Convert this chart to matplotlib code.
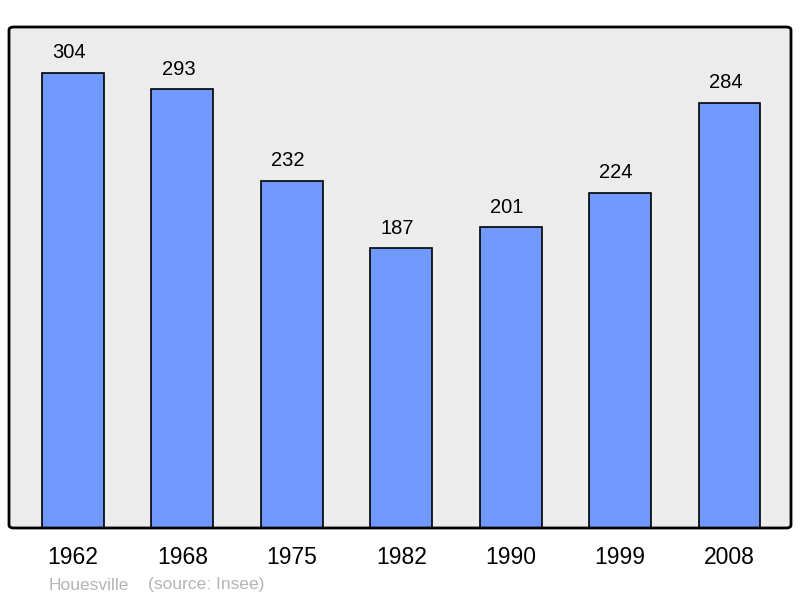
import matplotlib
matplotlib.use("Agg")
import matplotlib.pyplot as plt
from matplotlib.patches import FancyBboxPatch

years = ["1962", "1968", "1975", "1982", "1990", "1999", "2008"]
population = [304, 293, 232, 187, 201, 224, 284]
commune = "Houesville"
source = "(source: Insee)"

plt.rcParams['font.family'] = ['Liberation Sans', 'DejaVu Sans']

fig = plt.figure(figsize=(8, 5.98), dpi=100)
ax = fig.add_axes([9/800, 70/598, 782/800, 501/598])
ax.set_xlim(-0.584, 6.562)
ax.set_ylim(0, 334.7)
ax.axis('off')

bg = FancyBboxPatch((0, 0), 1, 1, boxstyle="round,pad=0,rounding_size=0.006",
                    transform=ax.transAxes, facecolor="#ececec", edgecolor="none",
                    zorder=0, clip_on=False)
ax.add_patch(bg)
frame = FancyBboxPatch((0, 0), 1, 1, boxstyle="round,pad=0,rounding_size=0.006",
                       transform=ax.transAxes, facecolor="none", edgecolor="black",
                       linewidth=2, zorder=5, clip_on=False)
ax.add_patch(frame)

x = list(range(len(years)))
ax.bar(x, population, width=0.566, color="#7099ff", edgecolor="black",
       linewidth=1.2, zorder=2)

for xi, v in zip(x, population):
    ax.annotate(str(v), (xi, v), xytext=(-4, 20), textcoords="offset pixels",
                ha="center", va="center", fontsize=14.5, color="black")

for xi, y in zip(x, years):
    ax.annotate(y, (xi, 0), xytext=(0, -30), textcoords="offset pixels",
                ha="center", va="center", fontsize=16.5, color="black",
                annotation_clip=False)

fig.text(49/800, 1 - 585/598, commune, ha="left", va="center",
         fontsize=12.5, color="#b4b4b4")
fig.text(148/800, 1 - 585/598, source, ha="left", va="center",
         fontsize=12.5, color="#b4b4b4")

fig.savefig("out.png", dpi=100, facecolor="white")
